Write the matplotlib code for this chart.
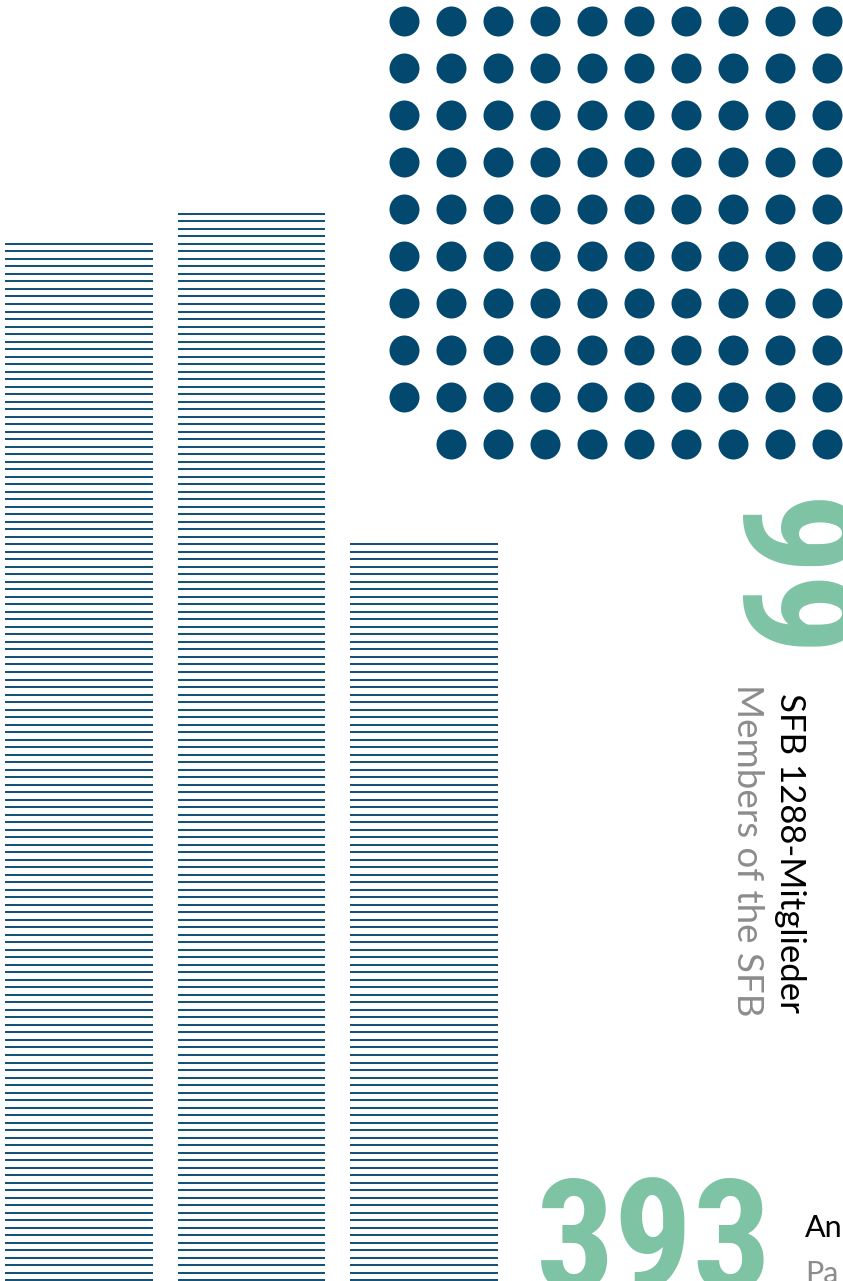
#Infografik SFB 1288: Linien-Balken, Punkteraster und Kennzahlen
import numpy as np
import matplotlib.pyplot as plt

#Daten============================================================#
balken_linien = [139, 143, 99]     # sichtbare Linien je Balken
mitglieder = 99                    # ein Punkt je Mitglied
punkte_pro_reihe = 10
zahl_mitglieder = "99"
text_mitglieder_de = "SFB 1288-Mitglieder"
text_mitglieder_en = "Members of the SFB"
zahl_teilnehmer = "393"
text_teilnehmer_de = "An"
text_teilnehmer_en = "Pa"

blau = '#03496f'
linie = '#0f5075'
gruen = '#7fc3a5'
grau = '#8c8c8c'
gross = ['Roboto Condensed', 'Roboto', 'DejaVu Sans']
klein = ['Lato', 'DejaVu Sans']

W, H = 843, 1281
fig = plt.figure(figsize=(W / 100, H / 100), dpi=100)
ax = fig.add_axes([0, 0, 1, 1])
ax.set_xlim(0, W)
ax.set_ylim(H, 0)
ax.axis('off')

#Balken aus horizontalen Linien===================================#
abstand = 7.51
unten = 1280.3
breite = 147.7
for i, n in enumerate(balken_linien):
    x0 = 5 + i * 172.5
    y = unten - np.arange(n) * abstand
    ax.hlines(y, x0, x0 + breite, color=linie, lw=1.4)

#Punkteraster=====================================================#
reihen = int(np.ceil(mitglieder / punkte_pro_reihe))
fehlend = reihen * punkte_pro_reihe - mitglieder
px, py = [], []
for k in range(reihen * punkte_pro_reihe):
    r, c = divmod(k, punkte_pro_reihe)
    if r == reihen - 1 and c < fehlend:
        continue
    px.append(404 + c * 47)
    py.append(21 + r * 47)
ax.scatter(px, py, s=(30 * 0.72) ** 2, color=blau, linewidths=0)

#Texte============================================================#
ax.text(736, 499, zahl_mitglieder, rotation=270, rotation_mode='anchor',
        ha='left', va='baseline', fontsize=116, fontweight='bold',
        color=gruen, family=gross)
ax.text(780, 693, text_mitglieder_de, rotation=270, rotation_mode='anchor',
        ha='left', va='baseline', fontsize=25, color='black', family=klein)
ax.text(737, 684, text_mitglieder_en, rotation=270, rotation_mode='anchor',
        ha='left', va='baseline', fontsize=26.5, color=grau, family=klein)

ax.text(536, 1290, zahl_teilnehmer, ha='left', va='baseline', fontsize=112,
        fontweight='bold', color=gruen, family=gross)
ax.text(805, 1237, text_teilnehmer_de, ha='left', va='baseline',
        fontsize=22, color='black', family=klein)
ax.text(805, 1283, text_teilnehmer_en, ha='left', va='baseline',
        fontsize=22, color=grau, family=klein)

fig.savefig('out.png', dpi=100)
